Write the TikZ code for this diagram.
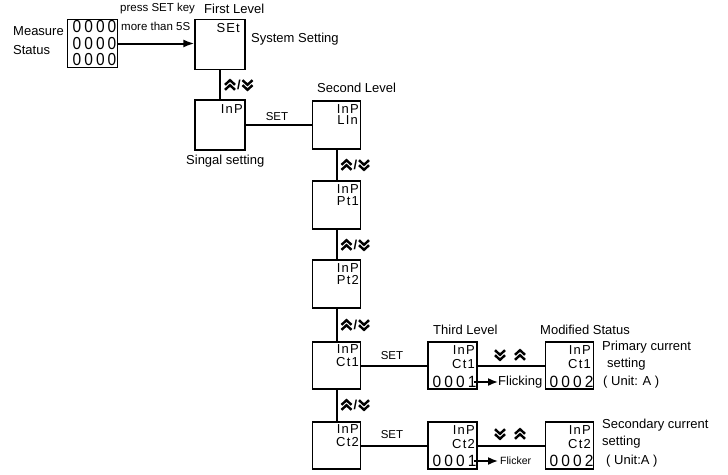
\documentclass[tikz,border=0pt]{standalone}
\usepackage{fontspec}
\setmainfont{Liberation Sans}
\newfontfamily\segdig[LetterSpace=20]{Liberation Sans}
\newfontfamily\seglet[LetterSpace=9]{Liberation Sans}
\usetikzlibrary{arrows.meta}
\tikzset{
  chevup/.pic={\draw[line width=2.4pt, line join=miter, line cap=butt]
      (-5,-0.2)--(0,-4.8)--(5,-0.2) (-5,4.8)--(0,0.2)--(5,4.8);},
  chevdn/.pic={\draw[line width=2.4pt, line join=miter, line cap=butt]
      (-5,0.2)--(0,4.8)--(5,0.2) (-5,-4.8)--(0,-0.2)--(5,-4.8);},
  disp/.style={draw, line width=1.3pt, minimum width=48pt, minimum height=48pt, inner sep=0pt},
  lbl/.style={font=\fontsize{13}{15}\selectfont, inner sep=0pt, anchor=west},
  smalllbl/.style={font=\fontsize{11.5}{13}\selectfont, inner sep=0pt, anchor=west},
  setlbl/.style={font=\fontsize{11.5}{13}\selectfont, inner sep=0pt},
  segt/.style={font=\seglet\fontsize{13}{13}\selectfont, inner sep=0pt, anchor=east},
  segd/.style={font=\segdig\fontsize{15.5}{15.5}\selectfont, inner sep=0pt},
  slashlbl/.style={font=\bfseries\fontsize{13}{13}\selectfont, inner sep=0pt},
  conn/.style={line width=2pt},
  arr/.style={line width=1.6pt, -{Latex[length=10pt,width=8pt]}},
}
\begin{document}
\begin{tikzpicture}[x=1pt,y=-1pt]
\useasboundingbox (0,0) rectangle (728,474);

% ---- boxes ----
\node[disp, minimum width=50pt] (meas) at (92.5,43.5) {};
\node[disp, minimum width=50pt, minimum height=50pt] (set) at (220,44.5) {};
\node[disp, minimum width=50pt, minimum height=50pt] (inp) at (220,125) {};
\node[disp] (lin) at (336.5,125) {};
\node[disp] (pt1) at (336.5,205) {};
\node[disp] (pt2) at (336.5,284) {};
\node[disp, minimum height=47pt] (ct1) at (336.5,365.5) {};
\node[disp, minimum height=47pt] (ct2) at (336.5,445.5) {};
\node[disp, minimum width=49pt, minimum height=47pt] (th1) at (452.5,365.5) {};
\node[disp, minimum width=49pt, minimum height=47pt] (th2) at (452.5,445.5) {};
\node[disp, minimum height=47pt] (mod1) at (569.5,365.5) {};
\node[disp, minimum height=47pt] (mod2) at (569.5,445.5) {};

% ---- box contents ----
\node[segd] (m1) at (94.5,27) {\scalebox{1}[1.12]{0000}};
\node[segd] (m2) at (94.5,43.5) {\scalebox{1}[1.12]{0000}};
\node[segd] (m3) at (94.5,60) {\scalebox{1}[1.12]{0000}};
\node[segt] (sett) at (240,28) {SEt};
\node[segt] (inpt) at (243,109) {InP};
\node[segt] (lint1) at (359,109) {InP};
\node[segt] (lint2) at (358,120.5) {LIn};
\node[segt] (pt1a) at (359,189) {InP};
\node[segt] (pt1b) at (359,201) {Pt1};
\node[segt] (pt2a) at (359,268) {InP};
\node[segt] (pt2b) at (359,280) {Pt2};
\node[segt] (ct1a) at (359,349) {InP};
\node[segt] (ct1b) at (359,362) {Ct1};
\node[segt] (ct2a) at (359,429) {InP};
\node[segt] (ct2b) at (359,442) {Ct2};
\node[segt] (th1a) at (475,350) {InP};
\node[segt] (th1b) at (475,364) {Ct1};
\node[segd] (th1c) at (454.5,382) {\scalebox{1}[1.05]{0001}};
\node[segt] (th2a) at (475,430) {InP};
\node[segt] (th2b) at (475,444) {Ct2};
\node[segd] (th2c) at (454.5,461) {\scalebox{1}[1.05]{0001}};
\node[segt] (mo1a) at (591,350) {InP};
\node[segt] (mo1b) at (591,364) {Ct1};
\node[segd] (mo1c) at (571.5,382) {\scalebox{1}[1.05]{0002}};
\node[segt] (mo2a) at (591,430) {InP};
\node[segt] (mo2b) at (591,444) {Ct2};
\node[segd] (mo2c) at (571.5,461) {\scalebox{1}[1.05]{0002}};

% ---- labels ----
\node[lbl] (tmeas) at (13,31) {Measure};
\node[lbl] (tstat) at (13,50) {Status};
\node[smalllbl] (tpress) at (120,9) {press SET key};
\node[smalllbl] (tmore) at (121,26) {more than 5S};
\node[lbl] (tfirst) at (204,9) {First Level};
\node[lbl] (tsys) at (251,39) {System Setting};
\node[lbl] (tsecond) at (317,88) {Second Level};
\node[lbl] (tsig) at (186,161) {Singal setting};
\node[lbl] (tthird) at (433,330) {Third Level};
\node[lbl] (tmodst) at (540,330) {Modified Status};
\node[lbl] (tprim) at (602,347) {Primary current};
\node[lbl] (tprim2) at (607,364) {setting};
\node[lbl] (tprim3) at (603,382) {( Unit: A )};
\node[lbl] (tsec) at (602,425) {Secondary current};
\node[lbl] (tsec2) at (602,442) {setting};
\node[lbl] (tsec3) at (606,461) {( Unit:A )};
\node[setlbl] (s1) at (277,117) {SET};
\node[setlbl] (s2) at (392,356) {SET};
\node[setlbl] (s3) at (392,435) {SET};
\node[lbl] (fl1) at (498,382) {Flicking};
\node[font=\fontsize{10.5}{12}\selectfont, inner sep=0pt, anchor=west] (fl2) at (500,461) {Flicker};

% ---- connectors ----
\draw[conn, -{Latex[length=11pt,width=8pt]}] (meas.east) -- (meas.east -| set.west);
\draw[conn] (set.south) -- (inp.north);
\draw[conn] (inp.east) -- (lin.west);
\draw[conn] (lin.south) -- (pt1.north);
\draw[conn] (pt1.south) -- (pt2.north);
\draw[conn] (pt2.south) -- (ct1.north);
\draw[conn] (ct1.south) -- (ct2.north);
\draw[conn] (ct1.east) -- (th1.west);
\draw[conn] (ct2.east) -- (th2.west);
\draw[conn] (th1.east) -- (mod1.west);
\draw[conn] (th2.east) -- (mod2.west);
\draw[arr] ([xshift=-3pt]th1c.east) -- (fl1.west);
\draw[arr] ([xshift=-3pt]th2c.east) -- ([xshift=-2pt]fl2.west);

% ---- up/down chevron marks ----
\pic at (230,85) {chevup};
\node[slashlbl] (sl0) at (239,85) {/};
\pic at (247.5,85) {chevdn};
\foreach \yy/\nm in {165/sl1,245/sl2,325/sl3,405/sl4}{
  \pic at (346.5,\yy) {chevup};
  \node[slashlbl] (\nm) at (355.5,\yy) {/};
  \pic at (364,\yy) {chevdn};
}
\pic at (500,355) {chevdn};
\pic at (520,355) {chevup};
\pic at (500,434) {chevdn};
\pic at (520,434) {chevup};
\end{tikzpicture}
\end{document}
